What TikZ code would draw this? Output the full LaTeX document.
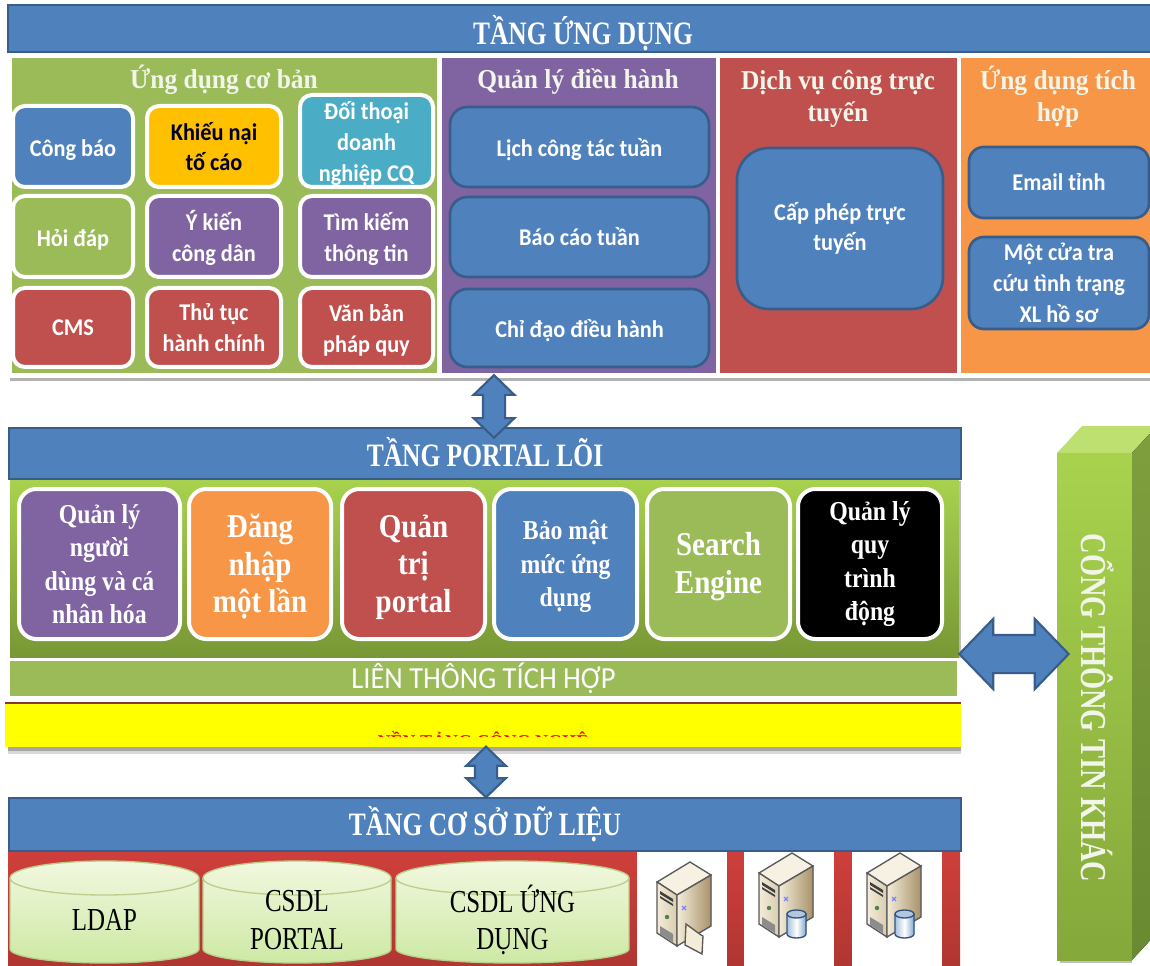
\documentclass[tikz,border=0pt]{standalone}
\usepackage{fontspec}
\setmainfont{Liberation Serif}
\newfontfamily\hdrf[FakeStretch=0.78]{Liberation Serif}
\newfontfamily\prtf[FakeStretch=0.87]{Liberation Serif}
\newfontfamily\ttlf[FakeStretch=0.93]{Liberation Serif}
\newfontfamily\calfont[FakeStretch=0.93]{Carlito}
\usetikzlibrary{shapes.arrows,shapes.geometric}
\definecolor{hblue}{HTML}{4F81BD}
\definecolor{hedge}{HTML}{385D8A}
\definecolor{pgreen}{HTML}{9BBB59}
\definecolor{ppurple}{HTML}{8064A2}
\definecolor{pred}{HTML}{C0504D}
\definecolor{porange}{HTML}{F79646}
\definecolor{pteal}{HTML}{4BACC6}
\definecolor{pgold}{HTML}{FFC000}
\definecolor{dbred}{HTML}{CF3F3B}
\definecolor{ttl}{HTML}{F2F5EA}
\definecolor{pureyellow}{HTML}{FFFF00}
\definecolor{purered}{HTML}{FF0000}
\definecolor{colfront}{HTML}{A8D24E}
\definecolor{colfrontb}{HTML}{85A83B}
\definecolor{coltop}{HTML}{BDE070}
\definecolor{colside}{HTML}{7F9F3E}
\definecolor{colsideb}{HTML}{6A8A32}
\definecolor{cyltop}{HTML}{F1F8DF}
\definecolor{cylbot}{HTML}{CDE9A4}
\definecolor{srvA}{HTML}{F6F1E2}
\definecolor{srvB}{HTML}{D9CDAF}
\definecolor{srvC}{HTML}{F3ECD9}
\definecolor{srvD}{HTML}{A8926A}
\tikzset{
  pxb/.style={rectangle,inner sep=0pt,outer sep=0pt,align=center},
  header/.style={pxb,fill=hblue,draw=hedge,line width=1.6pt,text=white,font=\hdrf\bfseries\fontsize{24.5}{28}\selectfont},
  panel/.style={pxb,fill=#1},
  wbox/.style={pxb,rounded corners=9pt,fill=#1,draw=white,line width=3pt,text=white,font=\calfont\bfseries\fontsize{18}{23}\selectfont},
  bbox/.style={pxb,rounded corners=#1,fill=hblue,draw=hedge,line width=2pt,text=white,font=\calfont\bfseries\fontsize{18}{23}\selectfont},
  pbox/.style={pxb,rounded corners=13pt,fill=#1,draw=white,line width=3pt,text=white},
  psmall/.style={font=\prtf\bfseries\fontsize{20.5}{25}\selectfont},
  pbig/.style={font=\prtf\bfseries\fontsize{25}{28.3}\selectfont},
  ttlnode/.style={text=ttl,align=center,inner sep=0pt,font=\ttlf\bfseries\fontsize{20.5}{24}\selectfont},
  darr/.style={double arrow,double arrow head extend=#1,double arrow tip angle=92,fill=hblue,draw=hedge,line width=1.6pt},
  dbtext/.style={align=center,inner sep=0pt,text=black,font=\hdrf\fontsize{24}{28}\selectfont},
}
\newcommand\dn{\rule{0pt}{17.5pt}}
\newcommand\dnbig{\rule{0pt}{21.5pt}}
\newcommand\dnsm{\rule{0pt}{18.5pt}}
\newcommand\upa{\rule[-3pt]{0pt}{1pt}}
\newcommand\bx[7]{\node[#2,minimum width={(#5-#3)*0.75pt},minimum height={(#6-#4)*0.75pt}] (#1) at ({(#3+#5)/2},{(#4+#6)/2}) {#7};}
\newcommand\cyl[5]{%
  \fill[top color=cyltop,bottom color=cylbot,draw=pgreen!70!white,line width=1pt]
    (#2,#3+17) arc[start angle=180,end angle=360,x radius={(#4-#2)/2},y radius=17]
    -- (#4,#3+88) arc[start angle=0,end angle=180,x radius={(#4-#2)/2},y radius=14] -- cycle;
  \draw[pgreen!70!white,line width=1pt] (#2,#3+17) arc[start angle=180,end angle=0,x radius={(#4-#2)/2},y radius=17];
  \node[dbtext] (#1) at ({(#2+#4)/2},#3+59) {#5};}
\newcommand\serverbody{%
  \filldraw[draw=black!65,line width=1pt,fill=srvA] (0,20)--(33,0)--(54,13)--(20,33)--cycle;
  \filldraw[draw=black!65,line width=1pt,left color=srvC,right color=srvB] (0,20)--(20,33)--(20,84)--(0,71)--cycle;
  \filldraw[draw=black!65,line width=1pt,left color=srvC,right color=srvD] (20,33)--(54,13)--(54,64)--(20,84)--cycle;
  \fill[black!75] (3,29)--(16,37)--(16,40)--(3,32)--cycle (3,34)--(16,42)--(16,44)--(3,36)--cycle;
  \fill[green!30!black!70] (10,55) circle (2.2);
  \fill[black!45] (3,64)--(16,72)--(16,80)--(3,72)--cycle;
  \draw[blue!50!white,line width=1pt] (25,44)--(29,48) (25,48)--(29,44);}
\newcommand\serverdb{%
  \filldraw[draw=hedge!90!black,line width=1pt,left color=hblue!50!white,right color=hblue!70!white,middle color=white] (28,61)--(28,81) arc[start angle=180,end angle=0,x radius=9.5,y radius=4]--(47,61)--cycle;
  \filldraw[draw=hedge!90!black,line width=1pt,fill=hblue!45!white] (37.5,61) ellipse (9.5 and 4);}
\newcommand\serverdoc{%
  \filldraw[draw=black!65,line width=1pt,fill=srvC] (29,62)--(44,73)--(46,74)--(45,92)--(28,83)--cycle;}
\begin{document}
\begin{tikzpicture}[x=0.75pt,y=-0.75pt]
\clip (0,0) rectangle (1150,966);
\fill[white] (0,0) rectangle (1150,966);
% ---------- application tier
\fill[black!30] (10,55) rectangle (1150,381);
\bx{appframe}{panel=white}{8}{53}{1150}{378}{}
\bx{apphdr}{header}{8}{5}{1160}{52}{}
\node[text=white,font=\hdrf\bfseries\fontsize{24.5}{28}\selectfont,inner sep=0pt] (apptitle) at (583,33) {TẦNG ỨNG DỤNG};
\bx{pnlA}{panel=pgreen}{12}{58}{437}{373}{}
\bx{pnlB}{panel=ppurple}{442}{58}{716}{373}{}
\bx{pnlC}{panel=pred}{720}{58}{957}{373}{}
\bx{pnlD}{panel=porange}{961}{58}{1150}{373}{}
\node[ttlnode] (tA) at (224,80) {Ứng dụng cơ bản};
\node[ttlnode] (tB) at (578,82) {Quản lý điều hành};
\node[ttlnode] (tC) at (838,99) {Dịch vụ công trực\\tuyến};
\node[ttlnode] (tD) at (1058,97) {Ứng dụng tích\\hợp};
\bx{a1}{wbox=hblue}{13}{106}{133}{187}{\dn Công báo}
\bx{a2}{wbox=pgold,text=black!85!blue}{147}{106}{281}{187}{Khiếu nại\\tố cáo}
\bx{a3}{wbox=pteal}{300}{95}{433}{187}{\dn Đối thoại\\doanh\\nghiệp CQ}
\bx{a4}{wbox=pgreen}{13}{196}{133}{277}{\dn Hỏi đáp}
\bx{a5}{wbox=ppurple}{147}{196}{281}{277}{\dn Ý kiến\\công dân}
\bx{a6}{wbox=ppurple}{300}{196}{433}{277}{\dn Tìm kiếm\\thông tin}
\bx{a7}{wbox=pred}{13}{288}{133}{367}{CMS}
\bx{a8}{wbox=pred}{147}{288}{281}{367}{Thủ tục\\hành chính}
\bx{a9}{wbox=pred}{300}{288}{433}{367}{\dn Văn bản\\pháp quy}
\bx{b1}{bbox=13pt}{450}{107}{709}{187}{\dn Lịch công tác tuần}
\bx{b2}{bbox=13pt}{450}{197}{709}{277}{Báo cáo tuần}
\bx{b3}{bbox=13pt}{450}{289}{709}{367}{\dn Chỉ đạo điều hành}
\bx{c1}{bbox=24pt}{737}{148}{943}{309}{Cấp phép trực\\tuyến}
\bx{d1}{bbox=11pt}{969}{147}{1149}{218}{Email tỉnh}
\bx{d2}{bbox=11pt}{969}{237}{1149}{329}{Một cửa tra\\cứu tình trạng\\XL hồ sơ}
% ---------- side column
\fill[black!25] (1060,958) rectangle (1132,963);
\fill[coltop] (1057,453)--(1082,426)--(1157,426)--(1132,453)--cycle;
\fill[top color=colfront,bottom color=colfrontb] (1057,453) rectangle (1132,960);
\fill[top color=colside,bottom color=colsideb] (1132,453)--(1157,426)--(1157,933)--(1132,960)--cycle;
\node[rotate=-90,text=ttl,inner sep=0pt,font=\hdrf\bfseries\fontsize{27.4}{30}\selectfont] (sideT) at (1098,708) {CỔNG THÔNG TIN KHÁC};
% ---------- portal tier
\fill[black!25] (10,481) rectangle (961,660);
\fill[top color=colfront,bottom color=colfrontb!90!black] (10,479) rectangle (959,658);
\bx{prhdr}{header}{9}{428}{961}{479}{\upa TẦNG PORTAL LÕI}
\bx{p1}{pbox=ppurple,psmall}{19}{489}{180}{639}{Quản lý\\người\\dùng và cá\\nhân hóa}
\bx{p2}{pbox=porange,pbig}{189}{489}{331}{639}{\dnbig Đăng\\nhập\\một lần}
\bx{p3}{pbox=pred,pbig}{342}{489}{485}{639}{\dnbig Quản\\trị\\portal}
\bx{p4}{pbox=hblue,psmall}{494}{489}{637}{639}{\dnsm Bảo mật\\mức ứng\\dụng}
\bx{p5}{pbox=pgreen,pbig}{647}{489}{790}{639}{\dnbig Search\\Engine}
\bx{p6}{pbox=black,psmall}{798}{489}{942}{639}{Quản lý\\quy\\trình\\động}
\bx{lframe}{panel=white}{6}{658}{961}{702}{}
\bx{lien}{panel=pgreen,text=white,font=\calfont\fontsize{23}{26}\selectfont}{10}{661}{957}{696}{LIÊN THÔNG TÍCH HỢP}
\fill[black!35] (8,747) rectangle (961,751);
\fill[black!15] (8,751) rectangle (961,754);
\fill[pred!70!black] (5,702) rectangle (961,705);
\bx{nen}{panel=pureyellow}{5}{704}{961}{747}{}
\begin{scope}
  \clip (5,726) rectangle (961,736.5);
  \node[text=purered,inner sep=0pt,anchor=base,font=\bfseries\fontsize{13.5}{16}\selectfont] (nenT) at (483,747) {NỀN TẢNG CÔNG NGHỆ};
\end{scope}
% ---------- database tier
\fill[top color=dbred,bottom color=dbred!85!black] (8,851) rectangle (960,966);
\bx{w1}{panel=white}{637}{851}{727}{966}{}
\bx{w2}{panel=white}{744}{851}{834}{966}{}
\bx{w3}{panel=white}{852}{851}{942}{966}{}
\bx{dbhdr}{header}{9}{798}{961}{851}{TẦNG CƠ SỞ DỮ LIỆU}
\cyl{cA}{10}{861}{199}{LDAP}
\cyl{cB}{203}{861}{391}{CSDL\\PORTAL}
\cyl{cC}{396}{861}{629}{CSDL ỨNG\\DỤNG}
\begin{scope}[shift={(657,862)}]\serverbody\serverdoc\end{scope}
\begin{scope}[shift={(759,853)}]\serverbody\serverdb\end{scope}
\begin{scope}[shift={(867,853)}]\serverbody\serverdb\end{scope}
% ---------- block connectors
\node[darr=7pt,shape border rotate=90,inner sep=7.5pt,minimum height=47pt] (arrTop) at (494,406.5) {};
\node[darr=6.5pt,shape border rotate=90,inner sep=7.5pt,minimum height=38pt] (arrDb) at (486,772) {};
\node[darr=12pt,inner sep=13.5pt,minimum height=82pt] (arrSide) at (1014,654) {};
\end{tikzpicture}
\end{document}
